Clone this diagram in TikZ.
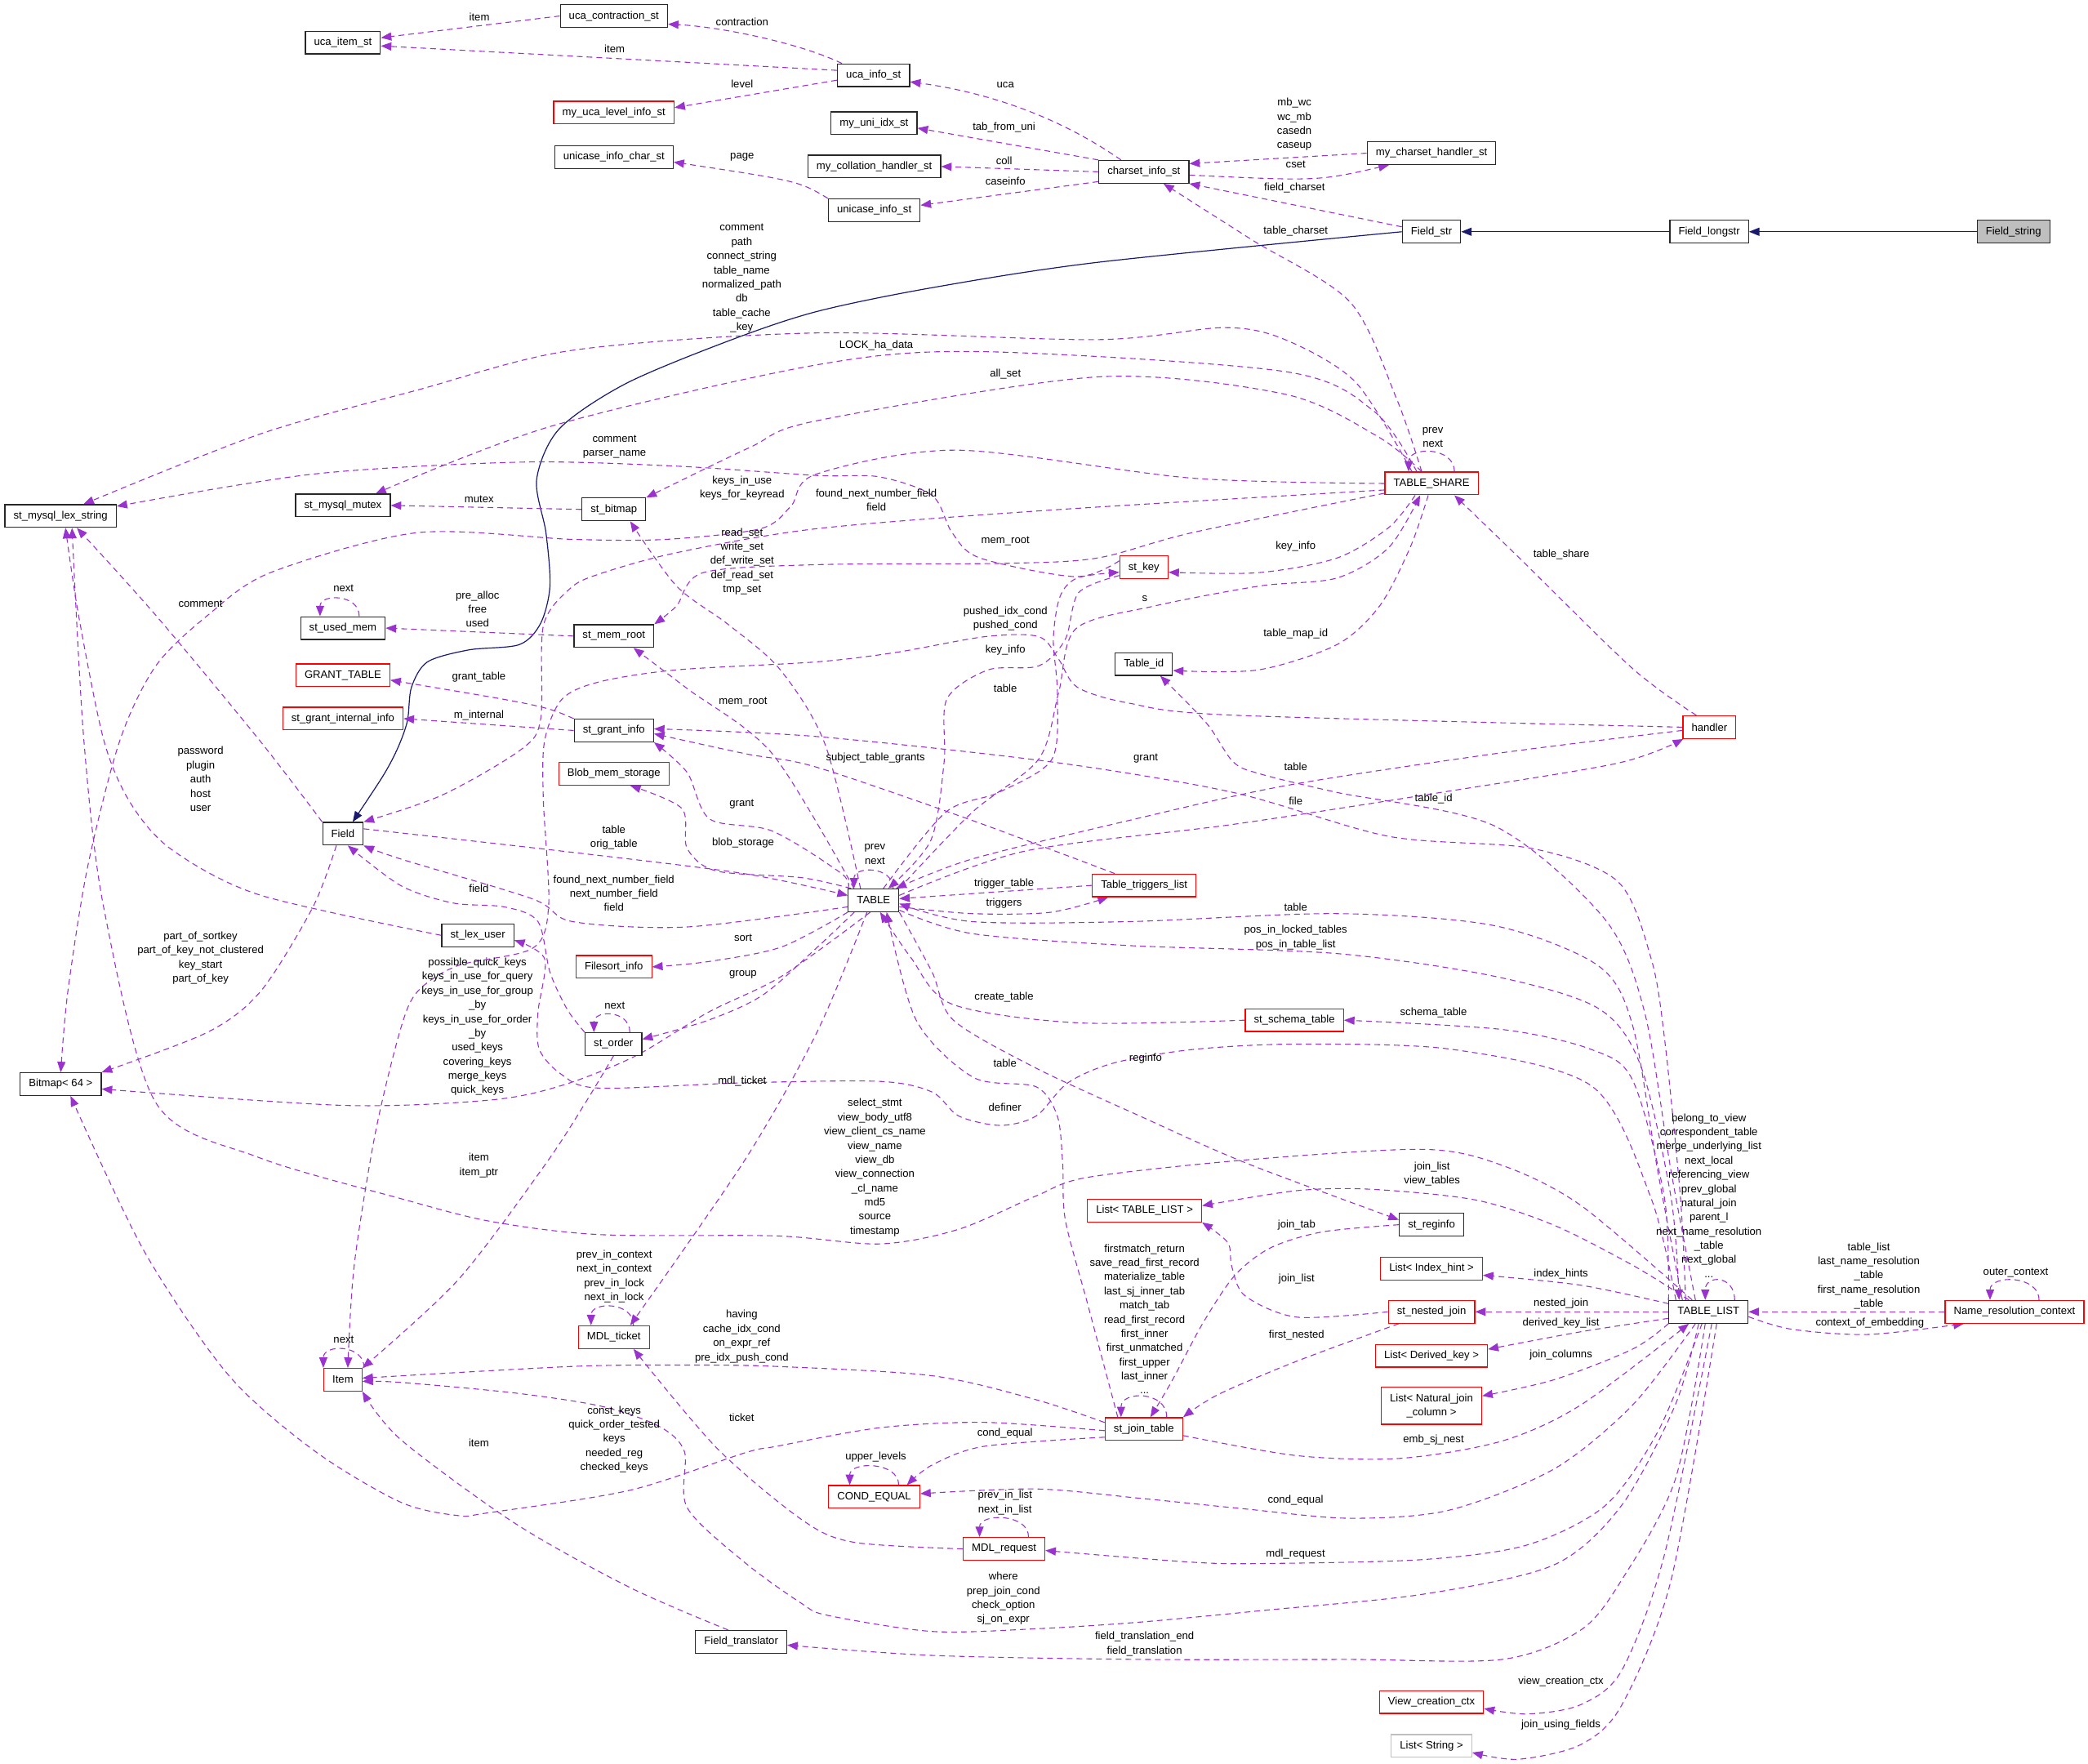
\documentclass[tikz,border=0pt]{standalone}
\usepackage{fontspec}
\setmainfont{Liberation Sans}
\usetikzlibrary{%
	arrows.meta,%
	backgrounds,%
}
\definecolor{cedge}{RGB}{154, 50, 205}
\definecolor{cinherit}{RGB}{25, 25, 112}
\definecolor{cboxred}{RGB}{255, 0, 0}
\definecolor{cboxgray}{RGB}{191, 191, 191}
\definecolor{cboxline}{RGB}{40, 40, 40}
\tikzset{
	>={Triangle[length=6.4pt,width=5pt]},%
	nodes={align=center, font={\fontsize{6.56}{8.68}\selectfont}},%
	cls/.style={%
			draw=cboxline,%
			rectangle,%
			line width=0.6pt,%
			inner xsep=5.3pt,%
			inner ysep=0pt,%
			minimum height=13.9pt,%
			fill=white},%
	clsred/.style={cls, draw=cboxred},%
	clsgray/.style={cls, draw=cboxgray},%
	clsfocus/.style={cls, fill=cboxgray},%
	lbl/.style={inner sep=0pt},%
	member/.style={%
			->,%
			draw=cedge,%
			dash pattern=on 3.5pt off 2.5pt,%
			line width=0.55pt},%
	inherit/.style={->, draw=cinherit, line width=0.6pt},%
}

\begin{document}
\begin{tikzpicture}[x=0.8154pt, y=-0.8154pt]
	\useasboundingbox (0,0) rectangle (1568,1324);

	% classes
	\node[cls] (ucacontr) at (461,12) {uca\_contraction\_st};
	\node[cls] (ucaitem) at (257.5,32) {uca\_item\_st};
	\node[cls] (ucainfo) at (656,56.5) {uca\_info\_st};
	\node[clsred] (ucalevel) at (461,84.5) {my\_uca\_level\_info\_st};
	\node[cls] (uniidx) at (656.4,92.5) {my\_uni\_idx\_st};
	\node[cls] (unicasechar) at (461,118) {unicase\_info\_char\_st};
	\node[cls] (collhandler) at (656.5,125) {my\_collation\_handler\_st};
	\node[cls] (charset) at (859,129) {charset\_info\_st};
	\node[cls] (cshandler) at (1075,115) {my\_charset\_handler\_st};
	\node[cls] (unicaseinfo) at (656.5,157.8) {unicase\_info\_st};
	\node[cls] (fieldstr) at (1075,174) {Field\_str};
	\node[cls] (fieldlongstr) at (1283.5,174) {Field\_longstr};
	\node[clsfocus] (fieldstring) at (1512,174) {Field\_string};
	\node[cls] (lexstring) at (45.5,387.5) {st\_mysql\_lex\_string};
	\node[cls] (mutex) at (257.5,379.5) {st\_mysql\_mutex};
	\node[cls] (bitmap) at (461,382.5) {st\_bitmap};
	\node[clsred] (share) at (1075,363) {TABLE\_SHARE};
	\node[clsred] (stkey) at (859,426) {st\_key};
	\node[cls] (usedmem) at (257.5,471.6) {st\_used\_mem};
	\node[cls] (memroot) at (461,477.6) {st\_mem\_root};
	\node[cls] (tableid) at (859,498.6) {Table\_id};
	\node[clsred] (granttable) at (257.5,507) {GRANT\_TABLE};
	\node[clsred] (grantint) at (257.5,539.6) {st\_grant\_internal\_info};
	\node[cls] (grantinfo) at (461,548.5) {st\_grant\_info};
	\node[clsred] (handler) at (1283.7,546) {handler};
	\node[clsred] (blobmem) at (461,581) {Blob\_mem\_storage};
	\node[cls] (field) at (257.5,626) {Field};
	\node[cls] (table) at (656,676) {TABLE};
	\node[clsred] (triggers) at (859.2,664.8) {Table\_triggers\_list};
	\node[cls] (lexuser) at (358.8,702.3) {st\_lex\_user};
	\node[clsred] (filesort) at (461,726) {Filesort\_info};
	\node[cls] (order) at (460.7,784) {st\_order};
	\node[cls] (bitmap64) at (45.6,814) {Bitmap< 64 >};
	\node[clsred] (schematable) at (972,766) {st\_schema\_table};
	\node[cls] (reginfo) at (1075,919.6) {st\_reginfo};
	\node[clsred] (listtl) at (859.5,909) {List< TABLE\_LIST >};
	\node[clsred] (listhint) at (1075,952.6) {List< Index\_hint >};
	\node[clsred] (nestedjoin) at (1075,985) {st\_nested\_join};
	\node[cls] (tablelist) at (1283,985) {TABLE\_LIST};
	\node[clsred] (namectx) at (1512.8,985) {Name\_resolution\_context};
	\node[clsred] (listdk) at (1075,1018) {List< Derived\_key >};
	\node[clsred, minimum height=22.8pt] (listnjc) at (1075,1055.5) {List< Natural\_join\\\_column >};
	\node[clsred] (mdlticket) at (461,1004) {MDL\_ticket};
	\node[clsred] (item) at (257.5,1036) {Item};
	\node[clsred] (jointable) at (859,1073) {st\_join\_table};
	\node[clsred] (condequal) at (656.5,1124) {COND\_EQUAL};
	\node[clsred] (mdlrequest) at (754,1163) {MDL\_request};
	\node[cls] (fieldtrans) at (556.6,1232.8) {Field\_translator};
	\node[clsred] (viewctx) at (1075,1278) {View\_creation\_ctx};
	\node[clsgray] (liststring) at (1075,1311) {List< String >};

	% member names
	\node[lbl] (lucaitemA) at (360,12.6) {item};
	\node[lbl] (lucaitemB) at (461.5,36.4) {item};
	\node[lbl] (lcontraction) at (557.3,16.4) {contraction};
	\node[lbl] (llevel) at (557.3,63) {level};
	\node[lbl] (luca) at (755,63.8) {uca};
	\node[lbl] (ltabfromuni) at (754,95.8) {tab\_from\_uni};
	\node[lbl] (lcoll) at (754,120.4) {coll};
	\node[lbl] (lcaseinfo) at (755,136.3) {caseinfo};
	\node[lbl] (lpage) at (557.3,117.7) {page};
	\node[lbl] (lmbwc) at (972,93.5) {mb\_wc\\wc\_mb\\casedn\\caseup};
	\node[lbl] (lcset) at (973,123.2) {cset};
	\node[lbl] (lfieldcharset) at (972.2,141.3) {field\_charset};
	\node[lbl] (ltablecharset) at (973,173.3) {table\_charset};
	\node[lbl] (lsharestr) at (557,209) {comment\\path\\connect\_string\\table\_name\\normalized\_path\\db\\table\_cache\\\_key};
	\node[lbl] (llock) at (658,259.5) {LOCK\_ha\_data};
	\node[lbl] (lallset) at (755,281) {all\_set};
	\node[lbl] (lkeystr) at (461.5,335.6) {comment\\parser\_name};
	\node[lbl] (lshareloop) at (1076,328.4) {prev\\next};
	\node[lbl] (lsharefield) at (658,375.3) {found\_next\_number\_field\\field};
	\node[lbl] (lkeysinuse) at (557.3,366.5) {keys\_in\_use\\keys\_for\_keyread};
	\node[lbl] (lmutex) at (359.8,375) {mutex};
	\node[lbl] (lreadset) at (557.3,421.5) {read\_set\\write\_set\\def\_write\_set\\def\_read\_set\\tmp\_set};
	\node[lbl] (lsharememroot) at (755,406.5) {mem\_root};
	\node[lbl] (lsharekey) at (973,410) {key\_info};
	\node[lbl] (lusedmemloop) at (258,442) {next};
	\node[lbl] (lprealloc) at (358.6,457.4) {pre\_alloc\\free\\used};
	\node[lbl] (ls) at (859.6,449.4) {s};
	\node[lbl] (lpushed) at (755,464.6) {pushed\_idx\_cond\\pushed\_cond};
	\node[lbl] (ltablekey) at (755,488.1) {key\_info};
	\node[lbl] (ltablemapid) at (973,476) {table\_map\_id};
	\node[lbl] (ltableshare) at (1172.5,416.7) {table\_share};
	\node[lbl] (lkeytable) at (755,517.1) {table};
	\node[lbl] (lgrantA) at (557,604) {grant};
	\node[lbl] (lgrantB) at (860.4,569.6) {grant};
	\node[lbl] (lsubject) at (657.4,569) {subject\_table\_grants};
	\node[lbl] (lhandlertable) at (973,575.5) {table};
	\node[lbl] (lfile) at (973,601.3) {file};
	\node[lbl] (ltableid) at (1076.6,599.8) {table\_id};
	\node[lbl] (ltablememroot) at (558,526.8) {mem\_root};
	\node[lbl] (lminternal) at (359.6,537.2) {m\_internal};
	\node[lbl] (lgranttable) at (359.6,508.4) {grant\_table};
	\node[lbl] (lblob) at (558,633.2) {blob\_storage};
	\node[lbl] (lorigtable) at (461,629) {table\\orig\_table};
	\node[lbl] (ltableloop) at (657,641.5) {prev\\next};
	\node[lbl] (lnextnumber) at (461,670.7) {found\_next\_number\_field\\next\_number\_field\\field};
	\node[lbl] (lorderfield) at (359.6,667.2) {field};
	\node[lbl] (lfieldcomment) at (150.6,453.1) {comment};
	\node[lbl] (lpassword) at (150.6,585) {password\\plugin\\auth\\host\\user};
	\node[lbl] (lpartof) at (150.6,719.3) {part\_of\_sortkey\\part\_of\_key\_not\_clustered\\key\_start\\part\_of\_key};
	\node[lbl] (lsort) at (558,703.9) {sort};
	\node[lbl] (lgroup) at (558,731.5) {group};
	\node[lbl] (lorderloop) at (461.6,754.8) {next};
	\node[lbl] (lquickkeys) at (358.5,771) {possible\_quick\_keys\\keys\_in\_use\_for\_query\\keys\_in\_use\_for\_group\\\_by\\keys\_in\_use\_for\_order\\\_by\\used\_keys\\covering\_keys\\merge\_keys\\quick\_keys};
	\node[lbl] (ltriggertable) at (754,663.8) {trigger\_table};
	\node[lbl] (ltriggers) at (754,678.5) {triggers};
	\node[lbl] (llisttable) at (973,681.4) {table};
	\node[lbl] (lposin) at (973,704) {pos\_in\_locked\_tables\\pos\_in\_table\_list};
	\node[lbl] (lcreatetable) at (754,748.6) {create\_table};
	\node[lbl] (lschematable) at (1076.5,760.7) {schema\_table};
	\node[lbl] (lreginfo) at (860.3,795) {reginfo};
	\node[lbl] (ljointable) at (754.7,798.5) {table};
	\node[lbl] (ldefiner) at (754.7,831.2) {definer};
	\node[lbl] (lmdlticket) at (557.3,811.7) {mdl\_ticket};
	\node[lbl] (lselect) at (657,876.7) {select\_stmt\\view\_body\_utf8\\view\_client\_cs\_name\\view\_name\\view\_db\\view\_connection\\\_cl\_name\\md5\\source\\timestamp};
	\node[lbl] (litemptr) at (359.6,875.2) {item\\item\_ptr};
	\node[lbl] (ljoinlistA) at (1075.4,881.4) {join\_list\\view\_tables};
	\node[lbl] (ljointab) at (973.7,920) {join\_tab};
	\node[lbl] (ljoinlistB) at (973.7,960.2) {join\_list};
	\node[lbl] (lfirstnested) at (973.7,1002.9) {first\_nested};
	\node[lbl] (ljoinloop) at (859.5,990.5) {firstmatch\_return\\save\_read\_first\_record\\materialize\_table\\last\_sj\_inner\_tab\\match\_tab\\read\_first\_record\\first\_inner\\first\_unmatched\\first\_upper\\last\_inner\\...};
	\node[lbl] (lindexhints) at (1172.2,956.5) {index\_hints};
	\node[lbl] (lnestedjoin) at (1172.2,979) {nested\_join};
	\node[lbl] (lderived) at (1172.2,993.2) {derived\_key\_list};
	\node[lbl] (ljoincolumns) at (1172.2,1017.2) {join\_columns};
	\node[lbl] (llistloop) at (1283.3,897.7) {belong\_to\_view\\correspondent\_table\\merge\_underlying\_list\\next\_local\\referencing\_view\\prev\_global\\natural\_join\\parent\_l\\next\_name\_resolution\\\_table\\next\_global\\...};
	\node[lbl] (ltablelistctx) at (1403.4,958) {table\_list\\last\_name\_resolution\\\_table\\first\_name\_resolution\\\_table};
	\node[lbl] (lembedding) at (1404.2,993.2) {context\_of\_embedding};
	\node[lbl] (louter) at (1513.7,955.7) {outer\_context};
	\node[lbl] (lticketloop) at (461.2,958.4) {prev\_in\_context\\next\_in\_context\\prev\_in\_lock\\next\_in\_lock};
	\node[lbl] (litemloop) at (258.1,1006) {next};
	\node[lbl] (lhaving) at (557,1003.6) {having\\cache\_idx\_cond\\on\_expr\_ref\\pre\_idx\_push\_cond};
	\node[lbl] (lconstkeys) at (461.2,1080.7) {const\_keys\\quick\_order\_tested\\keys\\needed\_reg\\checked\_keys};
	\node[lbl] (ltransitem) at (359.6,1083.2) {item};
	\node[lbl] (lticket) at (557,1064.2) {ticket};
	\node[lbl] (lupper) at (657.7,1094.3) {upper\_levels};
	\node[lbl] (lcondequalA) at (754.7,1076.5) {cond\_equal};
	\node[lbl] (lembsj) at (1076.5,1081.4) {emb\_sj\_nest};
	\node[lbl] (lcondequalB) at (972.9,1126.3) {cond\_equal};
	\node[lbl] (lrequestloop) at (754.7,1128.4) {prev\_in\_list\\next\_in\_list};
	\node[lbl] (lmdlrequest) at (972.9,1167.2) {mdl\_request};
	\node[lbl] (lwhere) at (753.5,1200.3) {where\\prep\_join\_cond\\check\_option\\sj\_on\_expr};
	\node[lbl] (lfieldtrans) at (859.5,1234.5) {field\_translation\_end\\field\_translation};
	\node[lbl] (lviewctx) at (1172.2,1262.5) {view\_creation\_ctx};
	\node[lbl] (lusing) at (1172.2,1295.2) {join\_using\_fields};

	\begin{scope}[on background layer]
		% inheritance
		\draw[inherit] (fieldstring.west) -- (fieldlongstr.east);
		\draw[inherit] (fieldlongstr.west) -- (fieldstr.east);
		\draw[inherit] plot[smooth] coordinates {(fieldstr.west) (824,197) (700,216) (613,234) (547,256) (470,288) (420,322) (403,360) (410,400) (413,440) (406,468) (390,484) (352,488) (321,497) (309,516) (306,541) (299,561) (288,582) ([xshift=6pt]field.north)};

		% charset cluster
		\draw[member] (ucacontr.west) -- ([yshift=3pt]ucaitem.east);
		\draw[member] ([yshift=3pt]ucainfo.west) -- ([yshift=-2pt]ucaitem.east);
		\draw[member] ([xshift=3pt]ucainfo.north west) .. controls (600,32) and (540,20) .. ([yshift=-5pt]ucacontr.east);
		\draw[member] ([yshift=-3pt]ucainfo.west) -- ([yshift=3pt]ucalevel.east);
		\draw[member] ([xshift=-14pt]charset.north) .. controls (810,98) and (760,72) .. ([yshift=-4pt]ucainfo.east);
		\draw[member] (charset.north west) -- ([yshift=-3pt]uniidx.east);
		\draw[member] (charset.west) -- (collhandler.east);
		\draw[member] ([yshift=-6pt]charset.west) -- ([yshift=3pt]unicaseinfo.east);
		\draw[member] (unicaseinfo.north west) .. controls (600,136) .. ([yshift=-3pt]unicasechar.east);
		\draw[member] (cshandler.west) -- ([yshift=5pt]charset.east);
		\draw[member] ([yshift=-2pt]charset.east) .. controls (990,136) .. ([xshift=-26pt]cshandler.south);
		\draw[member] ([yshift=3pt]fieldstr.west) -- (charset.south east);
		\draw[member] plot[smooth] coordinates {([xshift=-6pt]share.north) (1049,300) (1014,227) (940,180) ([xshift=12pt]charset.south)};

		% TABLE_SHARE
		\draw[member] plot[smooth] coordinates {([xshift=-12pt]share.north) (1018,287) (965,255) (919,246) (824,255) (613,250) (430,263) (313,293) (195,326) ([xshift=14pt]lexstring.north)};
		\draw[member] plot[smooth] coordinates {([xshift=-9pt]share.north) (1032,309) (965,279) (736,264) (613,274) (414,320) ([xshift=20pt]mutex.north)};
		\draw[member] plot[smooth] coordinates {([xshift=-6pt]share.north) (1035,328) (965,296) (824,283) (613,316) (563,336) (bitmap.north east)};
		\draw[member] plot[smooth] coordinates {([yshift=4pt]stkey.west) (808,433) (736,419) (715,400) (700,372) (660,358) (613,357) (508,350) (391,347) (235,356) ([yshift=6pt]lexstring.east)};
		\draw[member] plot[smooth] coordinates {(share.west) (895,359) (719,338) (613,356) (594,380) (571,397) (500,405) (430,405) (313,400) (203,430) (156,462) (117,500) (90,556) (66,650) (51,744) (bitmap64.north)};
		\draw[member] plot[smooth] coordinates {([yshift=-4pt]share.west) (789,383) (613,397) (508,415) (450,431) (428,442) (408,470) (406,540) (391,563) (332,597) (field.north east)};
		\draw[member] plot[smooth] coordinates {([yshift=-6pt]share.west) (895,400) (824,419) (754,423) (613,424) (528,430) (508,455) (memroot.north east)};
		\draw[member] plot[smooth] coordinates {([xshift=-10pt]share.south) (1043,396) (1004,419) (945,430) ([yshift=-3pt]stkey.east)};
		\draw[member] plot[smooth] coordinates {([xshift=-2pt]share.south) (1059,411) (1036,455) (1004,484) (945,503) ([yshift=-4pt]tableid.east)};
		\draw[member] ([xshift=14pt]share.north) .. controls +(0,-19) and +(0,-19) .. ([xshift=-14pt]share.north);
		\draw[member] plot[smooth] coordinates {([xshift=-8pt]handler.north) (1226,502) (1141,419) ([xshift=14pt]share.south)};

		% TABLE
		\draw[member] plot[smooth] coordinates {(table.north east) (730,610) (780,570) (795,520) (808,472) (867,455) (946,440) (1004,434) (1043,411) ([xshift=-7pt]share.south)};
		\draw[member] plot[smooth] coordinates {([xshift=6pt]table.north) (710,610) (750,595) (790,570) (794,520) (791,480) (796,448) (809,434) ([yshift=-3pt]stkey.west)};
		\draw[member] plot[smooth] coordinates {([yshift=-5pt]stkey.west) (810,445) (800,480) (780,500) (742,503) (711,525) (709,572) (699,631) ([xshift=9pt]table.north)};
		\draw[member] plot[smooth] coordinates {([xshift=-8pt]table.north) (620,560) (586,503) (547,469) (508,440) ([xshift=10pt]bitmap.south)};
		\draw[member] plot[smooth] coordinates {([xshift=-12pt]table.north) (580,566) (516,517) ([xshift=12pt]memroot.south)};
		\draw[member] plot[smooth] coordinates {(table.north west) (632,656) (580,624) (533,615) (516,580) (grantinfo.south east)};
		\draw[member] plot[smooth] coordinates {([xshift=2pt]table.north west) (602,659) (538,654) (516,637) (512,607) ([xshift=10pt]blobmem.south)};
		\draw[member] ([xshift=12pt]table.north) .. controls +(0,-17) and +(0,-17) .. ([xshift=-12pt]table.north);
		\draw[member] plot[smooth] coordinates {([yshift=-4pt]table.west) (516,696) (430,692) (400,675) (301,645) (field.south east)};
		\draw[member] plot[smooth] coordinates {([yshift=3pt]field.east) (430,640) (559,656) ([yshift=3pt]table.west)};
		\draw[member] plot[smooth] coordinates {(order.north west) (426,758) (413,730) (404,692) (379,681) (340,678) (301,665) ([xshift=3pt]field.south)};
		\draw[member] plot[smooth] coordinates {(table.south west) (587,711) (532,722) (filesort.east)};
		\draw[member] plot[smooth] coordinates {([xshift=4pt]table.south west) (614,711) (573,747) (532,766) ([yshift=3pt]order.east)};
		\draw[member] ([xshift=10pt]order.north) .. controls +(0,-17) and +(0,-17) .. ([xshift=-12pt]order.north);
		\draw[member] plot[smooth] coordinates {([xshift=-2pt]table.south) (587,733) (532,760) (477,793) (422,815) (368,826) (258,830) ([yshift=-3pt]bitmap64.east)};
		\draw[member] (triggers.west) -- ([yshift=1pt]table.east);
		\draw[member] plot[smooth] coordinates {([yshift=-4pt]table.east) (730,686) (789,685) ([xshift=-22pt]triggers.south)};
		\draw[member] plot[smooth] coordinates {([xshift=-18pt]triggers.north) (730,616) (613,576) (560,566) ([yshift=-2pt]grantinfo.east)};
		\draw[member] plot[smooth] coordinates {([yshift=-2pt]handler.west) (1122,566) (965,590) (848,616) (730,645) ([xshift=-2pt]table.north east)};
		\draw[member] plot[smooth] coordinates {([yshift=3pt]table.east) (770,639) (926,619) (1082,595) (1215,573) ([xshift=-16pt]handler.south)};
		\draw[member] plot[smooth] coordinates {(handler.west) (926,537) (848,528) (809,516) (795,495) (780,478) (740,478) (672,490) (613,497) (508,503) (450,512) (422,525) (409,556) (408,600) (412,680) (400,712) (344,725) (314,744) (301,772) (282,850) (266,950) ([xshift=3pt]item.north)};
		\draw[member] (grantinfo.north west) .. controls (409,530) .. ([yshift=-3pt]granttable.east);
		\draw[member] (grantinfo.west) -- (grantint.east);
		\draw[member] (memroot.west) -- (usedmem.east);
		\draw[member] ([xshift=10pt]usedmem.north) .. controls +(0,-17) and +(0,-17) .. ([xshift=-14pt]usedmem.north);
		\draw[member] (bitmap.west) -- (mutex.east);
		\draw[member] plot[smooth] coordinates {(schematable.west) (809,768) (715,754) (684,719) ([xshift=4pt]table.south)};
		\draw[member] plot[smooth] coordinates {(table.south east) (700,730) (716,766) (778,802) (856,838) (935,873) ([yshift=3pt]reginfo.west)};
		\draw[member] plot[smooth] coordinates {([xshift=-16pt]jointable.north) (817,980) (800,916) (798,873) (794,838) (778,816) (731,809) (688,766) ([xshift=8pt]table.south)};
		\draw[member] plot[smooth] coordinates {([xshift=-4pt]table.south) (614,774) (560,870) ([xshift=10pt]mdlticket.north)};

		% left side
		\draw[member] plot[smooth] coordinates {(field.north west) (195,556) (117,462) ([xshift=10pt]lexstring.south)};
		\draw[member] plot[smooth] coordinates {(lexuser.west) (195,672) (129,638) (98,603) (78,556) (59,462) ([xshift=3pt]lexstring.south)};
		\draw[member] plot[smooth] coordinates {([xshift=-4pt]field.south) (235,681) (196,744) (156,775) (bitmap64.north east)};
		\draw[member] plot[smooth] coordinates {(order.south) (439,829) (409,875) (344,961) (item.north east)};

		% TABLE_LIST
		\draw[member] plot[smooth] coordinates {([xshift=-14pt]tablelist.north) (1262,900) (1250,780) (1240,720) (1215,662) (1150,637) (1043,628) (926,595) (789,572) (613,553) ([yshift=1pt]grantinfo.east)};
		\draw[member] plot[smooth] coordinates {([xshift=-8pt]tablelist.north) (1255,880) (1235,760) (1205,690) (1122,620) (1004,595) (946,581) (926,572) (906,543) ([xshift=10pt]tableid.south)};
		\draw[member] plot[smooth] coordinates {([xshift=-16pt]tablelist.north) (1245,880) (1226,770) (1200,725) (1122,695) (1004,686) (848,692) (730,692) ([yshift=-2pt]table.east)};
		\draw[member] plot[smooth] coordinates {([yshift=-6pt]table.east) (730,701) (848,710) (1004,716) (1122,733) (1200,757) (1232,800) (1255,900) ([xshift=-18pt]tablelist.north)};
		\draw[member] plot[smooth] coordinates {(tablelist.north west) (1250,900) (1226,811) (1195,788) (1128,773) (schematable.east)};
		\draw[member] plot[smooth] coordinates {([xshift=-20pt]tablelist.north) (1240,900) (1196,816) (1091,788) (974,784) (896,788) (837,798) (802,813) (778,838) (751,845) (720,838) (700,820) (661,812) (560,813) (450,817) (422,807) (405,788) (404,760) (409,720) ([yshift=-3pt]lexuser.east)};
		\draw[member] plot[smooth] coordinates {([xshift=-10pt]tablelist.north) (1187,905) (1128,875) (1069,863) (935,871) (817,884) (778,898) (720,923) (661,934) (583,928) (450,927) (368,917) (301,900) (194,869) (117,828) (78,682) (63,556) ([xshift=7pt]lexstring.south)};
		\draw[member] plot[smooth] coordinates {([xshift=-12pt]tablelist.north) (1226,950) (1167,920) (1108,901) (1030,893) (974,894) ([yshift=3pt]listtl.east)};
		\draw[member] ([xshift=16pt]tablelist.north) .. controls +(0,-19) and +(0,-19) .. ([xshift=-2pt]tablelist.north);
		\draw[member] plot[smooth] coordinates {([yshift=5pt]tablelist.west) (1187,965) ([yshift=-4pt]listhint.east)};
		\draw[member] (tablelist.west) -- (nestedjoin.east);
		\draw[member] plot[smooth] coordinates {([yshift=-4pt]tablelist.west) (1187,1000) ([yshift=4pt]listdk.east)};
		\draw[member] plot[smooth] coordinates {(tablelist.south west) (1226,1013) (1167,1036) ([yshift=6pt]listnjc.east)};
		\draw[member] (namectx.west) -- (tablelist.east);
		\draw[member] plot[smooth] coordinates {([yshift=-3pt]tablelist.east) (1345,998) (1403,1002) ([xshift=-31pt]namectx.south)};
		\draw[member] ([xshift=15pt]namectx.north) .. controls +(0,-19) and +(0,-19) .. ([xshift=-15pt]namectx.north);

		% st_join_table and friends
		\draw[member] ([xshift=14pt]jointable.north) .. controls +(0,-20) and +(0,-20) .. ([xshift=-14pt]jointable.north);
		\draw[member] plot[smooth] coordinates {(reginfo.west) (993,925) (954,937) (927,958) (903,994) (880,1037) ([xshift=4pt]jointable.north)};
		\draw[member] plot[smooth] coordinates {(nestedjoin.west) (974,989) (935,973) (925,951) (922,933) (listtl.south east)};
		\draw[member] plot[smooth] coordinates {([xshift=-20pt]nestedjoin.south) (974,1022) (915,1047) (jointable.north east)};
		\draw[member] plot[smooth] coordinates {([yshift=-4pt]jointable.east) (974,1093) (1052,1095) (1128,1082) (1187,1055) ([xshift=-12pt]tablelist.south)};
		\draw[member] plot[smooth] coordinates {([yshift=4pt]jointable.west) (778,1051) (700,1033) (583,1026) (516,1025) (430,1026) ([yshift=1pt]item.east)};
		\draw[member] plot[smooth] coordinates {([yshift=-1pt]jointable.west) (739,1068) (661,1072) (583,1086) (559,1091) (473,1119) (366,1136) (344,1138) (301,1128) (237,1090) (172,1033) (108,939) ([xshift=6pt]bitmap64.south)};
		\draw[member] plot[smooth] coordinates {([yshift=-5pt]jointable.west) (739,1086) (700,1100) ([xshift=20pt]condequal.north)};
		\draw[member] ([xshift=15pt]condequal.north) .. controls +(0,-18) and +(0,-18) .. ([xshift=-15pt]condequal.north);
		\draw[member] plot[smooth] coordinates {([xshift=-8pt]tablelist.south) (1226,1055) (1167,1103) (1088,1134) (1013,1140) (935,1133) (856,1125) (778,1118) ([yshift=2pt]condequal.east)};
		\draw[member] ([xshift=15pt]mdlrequest.north) .. controls +(0,-18) and +(0,-18) .. ([xshift=-15pt]mdlrequest.north);
		\draw[member] plot[smooth] coordinates {([xshift=-4pt]tablelist.south) (1246,1073) (1206,1130) (1147,1160) (1069,1171) (950,1174) (895,1173) ([yshift=-1pt]mdlrequest.east)};
		\draw[member] plot[smooth] coordinates {(mdlrequest.west) (641,1158) (602,1141) (538,1087) ([xshift=12pt]mdlticket.south)};
		\draw[member] ([xshift=12pt]mdlticket.north) .. controls +(0,-18) and +(0,-18) .. ([xshift=-14pt]mdlticket.north);
		\draw[member] ([xshift=13pt]item.north) .. controls +(0,-18) and +(0,-18) .. ([xshift=-12pt]item.north);
		\draw[member] plot[smooth] coordinates {([xshift=-6pt]tablelist.south) (1258,1055) (1218,1130) (1167,1175) (1069,1197) (951,1209) (856,1218) (778,1223) (700,1225) (622,1213) (602,1204) (559,1173) (516,1132) (514,1090) (495,1071) (452,1056) (387,1046) (301,1038) ([yshift=-1pt]item.east)};
		\draw[member] plot[smooth] coordinates {([xshift=-8pt]fieldtrans.north) (473,1192) (387,1144) (301,1081) (item.south east)};
		\draw[member] plot[smooth] coordinates {([xshift=-2pt]tablelist.south) (1258,1111) (1218,1186) (1187,1224) (1128,1246) (1013,1246) (856,1246) (700,1243) ([yshift=-2pt]fieldtrans.east)};
		\draw[member] plot[smooth] coordinates {([xshift=2pt]tablelist.south) (1250,1167) (1218,1254) (1187,1280) (1147,1287) ([yshift=-4pt]viewctx.east)};
		\draw[member] plot[smooth] coordinates {([xshift=5pt]tablelist.south) (1255,1186) (1218,1280) (1187,1310) (1140,1321) ([yshift=-4pt]liststring.east)};
	\end{scope}
\end{tikzpicture}
\end{document}
